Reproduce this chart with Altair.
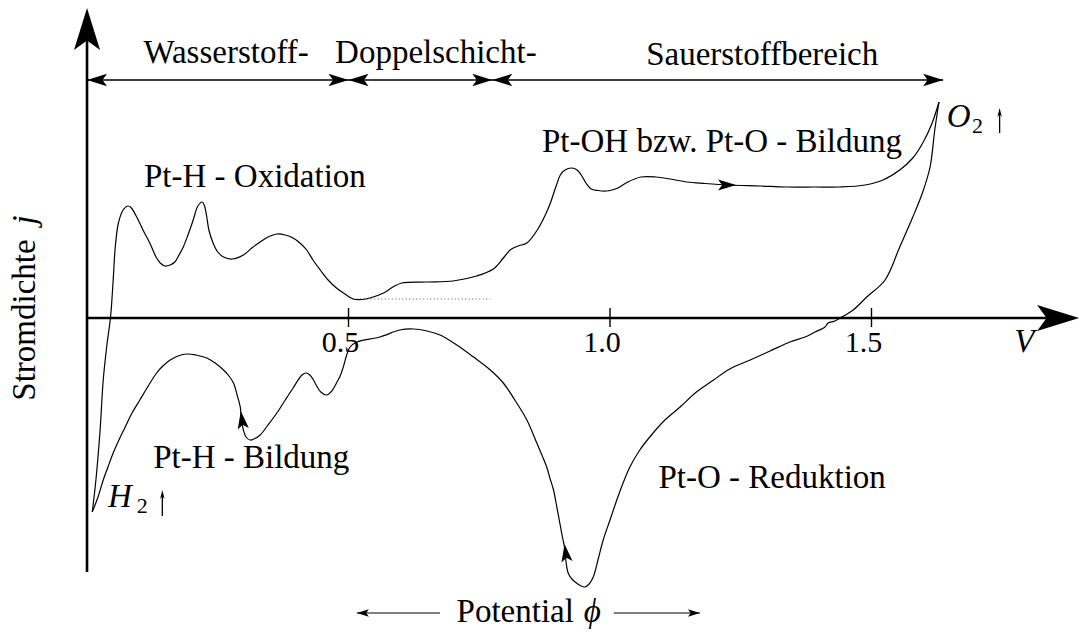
import altair as alt
import pandas as pd

# ---- cyclic voltammogram of platinum (schematic) ----
# forward (anodic) sweep: potential in V, current density in arbitrary units
anodic_v = [0.010, 0.017, 0.025, 0.031, 0.038, 0.045, 0.050, 0.054, 0.060, 0.069,
            0.078, 0.084, 0.095, 0.107, 0.120, 0.132, 0.140, 0.149, 0.159, 0.168,
            0.176, 0.184, 0.193, 0.203, 0.212, 0.220, 0.224, 0.229, 0.233, 0.241,
            0.250, 0.261, 0.278, 0.299, 0.315, 0.331, 0.346, 0.363, 0.379, 0.394,
            0.407, 0.420, 0.432, 0.446, 0.461, 0.477, 0.493, 0.509, 0.526, 0.541,
            0.567, 0.585, 0.602, 0.650, 0.700, 0.745, 0.777, 0.796, 0.809, 0.824,
            0.841, 0.861, 0.883, 0.897, 0.905, 0.914, 0.927, 0.937, 0.945, 0.954,
            0.964, 0.977, 0.993, 1.004, 1.015, 1.034, 1.059, 1.088, 1.115, 1.147,
            1.182, 1.227, 1.287, 1.337, 1.392, 1.440, 1.488, 1.522, 1.554, 1.579,
            1.598, 1.616, 1.629]
anodic_j = [-1.94, -1.62, -1.12, -0.62, -0.27, 0.01, 0.38, 0.71, 0.95, 1.08,
            1.12, 1.105, 1.01, 0.88, 0.75, 0.61, 0.55, 0.52, 0.53, 0.56,
            0.63, 0.71, 0.83, 0.98, 1.12, 1.16, 1.13, 1.01, 0.88, 0.75,
            0.66, 0.61, 0.59, 0.63, 0.70, 0.76, 0.81, 0.84, 0.83, 0.80,
            0.75, 0.68, 0.58, 0.48, 0.38, 0.30, 0.24, 0.19, 0.185, 0.20,
            0.25, 0.31, 0.35, 0.36, 0.37, 0.42, 0.49, 0.60, 0.68, 0.72,
            0.75, 0.88, 1.11, 1.32, 1.43, 1.48, 1.50, 1.48, 1.43, 1.35,
            1.29, 1.275, 1.27, 1.28, 1.30, 1.36, 1.41, 1.41, 1.39, 1.36,
            1.345, 1.33, 1.32, 1.31, 1.31, 1.31, 1.33, 1.38, 1.48, 1.60,
            1.75, 1.95, 2.16]

# reverse (cathodic) sweep
cathodic_v = [1.629, 1.621, 1.612, 1.598, 1.579, 1.554, 1.526, 1.491, 1.465, 1.440,
              1.430, 1.417, 1.411, 1.392, 1.373, 1.344,
              1.306, 1.268, 1.229, 1.198, 1.163, 1.134, 1.105, 1.076, 1.057, 1.038,
              1.025, 1.013, 1.000, 0.987, 0.977, 0.968, 0.960, 0.952, 0.943, 0.936,
              0.927, 0.920, 0.916, 0.914, 0.909, 0.904, 0.898, 0.892, 0.885, 0.879,
              0.860, 0.841, 0.818, 0.796, 0.769, 0.739, 0.707, 0.675, 0.650, 0.624,
              0.598, 0.560, 0.516, 0.503, 0.496, 0.490, 0.484, 0.477, 0.468, 0.458,
              0.447, 0.438, 0.433, 0.426, 0.419, 0.411, 0.394, 0.379, 0.363, 0.346,
              0.331, 0.319, 0.312, 0.304, 0.299, 0.295, 0.293, 0.287, 0.280, 0.270,
              0.261, 0.245, 0.229, 0.208, 0.191, 0.174, 0.159, 0.145, 0.133, 0.117,
              0.101, 0.086, 0.073, 0.061, 0.050, 0.040, 0.031, 0.021, 0.010]
cathodic_j = [2.16, 1.88, 1.51, 1.26, 1.01, 0.71, 0.38, 0.21, 0.08, 0.00,
              -0.03, -0.05, -0.09, -0.14, -0.19, -0.24,
              -0.33, -0.42, -0.51, -0.62, -0.75, -0.89, -1.02, -1.19, -1.32, -1.49,
              -1.65, -1.82, -2.02, -2.22, -2.42, -2.59, -2.66, -2.69, -2.675, -2.65,
              -2.61, -2.55, -2.44, -2.32, -2.19, -2.05, -1.88, -1.72, -1.60, -1.49,
              -1.25, -1.02, -0.82, -0.65, -0.51, -0.39, -0.27, -0.17, -0.13, -0.11,
              -0.12, -0.19, -0.24, -0.29, -0.38, -0.49, -0.58, -0.65, -0.73, -0.77,
              -0.74, -0.67, -0.62, -0.57, -0.55, -0.57, -0.70, -0.82, -0.95, -1.07,
              -1.17, -1.21, -1.22, -1.19, -1.12, -1.00, -0.89, -0.77, -0.65, -0.57,
              -0.52, -0.45, -0.40, -0.37, -0.36, -0.38, -0.42, -0.48, -0.55, -0.68,
              -0.82, -0.95, -1.09, -1.22, -1.35, -1.49, -1.62, -1.79, -1.94]

# double-layer baseline (dotted)
baseline_v = [0.509, 0.771]
baseline_j = [0.19, 0.19]

# potential regions along the top
region_bounds = [0.0, 0.5, 0.775, 1.637]
region_names = ["Wasserstoff-", "Doppelschicht-", "Sauerstoffbereich"]
region_label_v = [0.266, 0.667, 1.291]

tick_values = [0.5, 1.0, 1.5]
tick_labels = ["0.5", "1.0", "1.5"]

W, H = 1081, 632
SERIF = "Liberation Serif"
FS = 33
xs = alt.Scale(domain=[-0.1664, 1.9006], nice=False, zero=False)
ys = alt.Scale(domain=[-3.14, 3.18], nice=False, zero=False)


def X(f="v"):
    return alt.X(f"{f}:Q", scale=xs, axis=None)


def Y(f="j"):
    return alt.Y(f"{f}:Q", scale=ys, axis=None)


def text_layer(df, **kw):
    style = dict(font=SERIF, fontSize=FS, baseline="alphabetic", align="center",
                 color="black")
    style.update(kw)
    return alt.Chart(df).mark_text(**style).encode(x=X(), y=Y(), text="t:N")


# stealth arrowhead with its tip at the symbol origin, pointing up
ARROW = "M0,0 L0.62,2 L0,1.55 L-0.62,2 Z"
THIN_ARROW = "M0,0 L0.5,2 L0,1.4 L-0.5,2 Z"

# --- curves ---
curve_df = pd.concat([
    pd.DataFrame({"v": anodic_v, "j": anodic_j, "sweep": "anodisch",
                  "i": range(len(anodic_v))}),
    pd.DataFrame({"v": cathodic_v, "j": cathodic_j, "sweep": "kathodisch",
                  "i": range(len(cathodic_v))}),
])
curves = alt.Chart(curve_df).mark_line(
    color="black", strokeWidth=1.2, interpolate="catmull-rom"
).encode(x=X(), y=Y(), detail="sweep:N", order="i:Q")

baseline = alt.Chart(pd.DataFrame({"v": baseline_v, "j": baseline_j})).mark_line(
    color="#555555", strokeWidth=1, strokeDash=[1, 2.5]
).encode(x=X(), y=Y())

# --- axes ---
axes_df = pd.DataFrame({"v": [0.0, 0.0], "j": [-2.54, 0.0],
                        "v2": [0.0, 1.86], "j2": [2.80, 0.0]})
axes = alt.Chart(axes_df).mark_rule(color="black", strokeWidth=2.6).encode(
    x=X(), y=Y(), x2="v2:Q", y2="j2:Q")

ticks_df = pd.DataFrame({"v": tick_values, "j": [0.10] * 3, "j2": [-0.09] * 3})
ticks = alt.Chart(ticks_df).mark_rule(color="black", strokeWidth=1.4).encode(
    x=X(), y=Y(), y2="j2:Q")

tick_text = text_layer(pd.DataFrame({"v": tick_values, "j": [-0.34] * 3,
                                     "t": tick_labels}), fontSize=30, dx=-8)

# --- region arrows on top ---
region_line = alt.Chart(pd.DataFrame({"v": [region_bounds[0]], "v2": [region_bounds[-1]],
                                      "j": [2.38]})).mark_rule(
    color="black", strokeWidth=1.4).encode(x=X(), x2="v2:Q", y=Y())

heads = []  # (v, j, angle, length)
heads.append((region_bounds[0], 2.38, 270, 20))
for b in region_bounds[1:-1]:
    heads.append((b, 2.38, 90, 20))
    heads.append((b, 2.38, 270, 20))
heads.append((region_bounds[-1], 2.38, 90, 20))
# axis arrowheads
heads.append((0.0, 3.10, 0, 42))
heads.append((1.897, 0.0, 90, 42))
# direction of the sweep on the curve
heads.append((1.241, 1.33, 90, 18))
heads.append((0.294, -0.93, 352, 18))
heads.append((0.913, -2.26, 352, 18))
# potential arrows below
heads.append((0.516, -2.95, 270, 12))
heads.append((1.172, -2.95, 90, 12))

heads_df = pd.DataFrame(heads, columns=["v", "j", "angle", "len"])
heads_df["size"] = heads_df["len"] ** 2
arrowheads = alt.Chart(heads_df).mark_point(
    shape=ARROW, filled=True, color="black", opacity=1, strokeWidth=0
).encode(x=X(), y=Y(), angle=alt.Angle("angle:Q", scale=None),
         size=alt.Size("size:Q", scale=None))

pot_lines = alt.Chart(pd.DataFrame({"v": [0.516, 1.007], "v2": [0.675, 1.172],
                                    "j": [-2.95, -2.95]})).mark_rule(
    color="black", strokeWidth=1).encode(x=X(), x2="v2:Q", y=Y())

# gas evolution arrows next to O2 and H2
gas_v = [1.745, 0.144]
gas_lo = [1.85, -1.98]
gas_hi = [2.10, -1.72]
gas_stems = alt.Chart(pd.DataFrame({"v": gas_v, "j": gas_lo, "j2": [h - 0.05 for h in gas_hi]})
                      ).mark_rule(color="black", strokeWidth=1.3).encode(
    x=X(), y=Y(), y2="j2:Q")
gas_heads = alt.Chart(pd.DataFrame({"v": gas_v, "j": gas_hi})).mark_point(
    shape=THIN_ARROW, filled=True, color="black", opacity=1, strokeWidth=0,
    size=81).encode(x=X(), y=Y())

# --- labels ---
labels_df = pd.DataFrame({
    "t": region_names + ["Pt-H - Oxidation", "Pt-OH bzw. Pt-O - Bildung",
                         "Pt-H - Bildung", "Pt-O - Reduktion"],
    "v": region_label_v + [0.321, 1.214, 0.314, 1.310],
    "j": [2.55, 2.55, 2.53, 1.31, 1.66, -1.50, -1.70],
})
labels = text_layer(labels_df)

potential = text_layer(pd.DataFrame({"t": ["Potential"], "v": [0.931], "j": [-3.04]}),
                       align="right")
phi = text_layer(pd.DataFrame({"t": ["ϕ"], "v": [0.950], "j": [-3.04]}),
                 align="left", fontStyle="italic")

v_label = text_layer(pd.DataFrame({"t": ["V"], "v": [1.792], "j": [-0.34]}),
                     fontStyle="italic")
gases = text_layer(pd.DataFrame({"t": ["O", "H"], "v": [1.644, 0.040],
                                 "j": [1.91, -1.89]}),
                   align="left", fontStyle="italic")
subs = text_layer(pd.DataFrame({"t": ["2", "2"], "v": [1.692, 0.095],
                                "j": [1.85, -1.95]}), fontSize=22, align="left")

ylab = text_layer(pd.DataFrame({"t": ["Stromdichte"], "v": [-0.0994], "j": [-0.02]}),
                  angle=270)
ylab_j = text_layer(pd.DataFrame({"t": ["j"], "v": [-0.0994], "j": [0.98]}),
                    angle=270, fontStyle="italic")

chart = alt.layer(
    baseline, axes, ticks, region_line, pot_lines, curves, arrowheads,
    gas_stems, gas_heads, tick_text, labels, potential, phi, v_label, gases,
    subs, ylab, ylab_j,
).properties(
    width=W, height=H, padding=0, autosize=alt.AutoSizeParams(type="none"),
    background="white",
).configure_view(stroke=None)

chart.save("out.html", embed_options={"renderer": "svg", "actions": False})
